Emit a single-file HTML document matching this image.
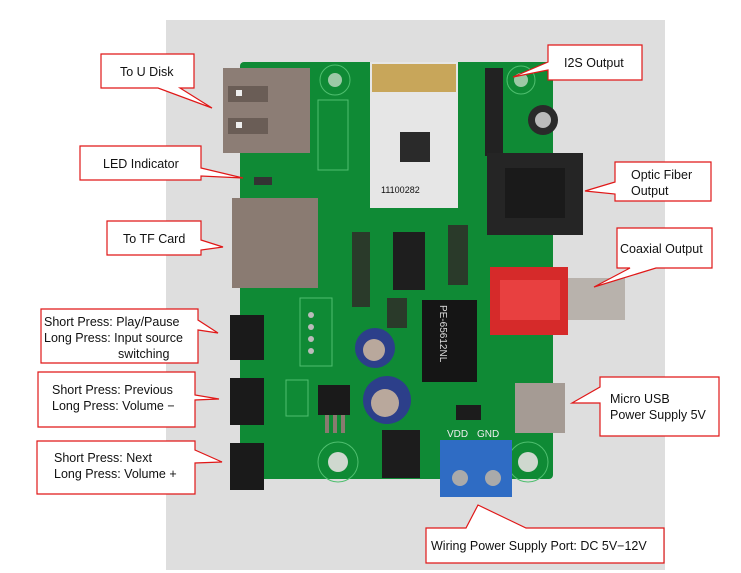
<!DOCTYPE html>
<html><head><meta charset="utf-8"><style>
html,body{margin:0;padding:0;background:#fff;}
svg{display:block;}
text{font-family:"Liberation Sans",sans-serif;font-size:12.5px;fill:#111;}
</style></head><body>
<svg width="741" height="573" viewBox="0 0 741 573" xmlns="http://www.w3.org/2000/svg">
<rect x="166" y="20" width="499" height="550" fill="#dedede"/>
<!-- PCB -->
<rect x="240" y="62" width="313" height="417" rx="4" fill="#0f8a35"/>
<g fill="none" stroke="#4fbf6f" stroke-width="1">
<circle cx="335" cy="80" r="15"/><circle cx="521" cy="80" r="14"/>
<circle cx="338" cy="462" r="20"/><circle cx="528" cy="462" r="20"/>
<rect x="300" y="298" width="32" height="68"/>
<rect x="286" y="380" width="22" height="36"/>
<rect x="318" y="100" width="30" height="70"/>
</g>
<circle cx="335" cy="80" r="7" fill="#9cc9a6"/><circle cx="521" cy="80" r="7" fill="#9cc9a6"/>
<circle cx="338" cy="462" r="10" fill="#cfd8cf"/><circle cx="528" cy="462" r="10" fill="#cfd8cf"/>
<!-- USB port -->
<rect x="223" y="68" width="87" height="85" fill="#8c7d75"/>
<rect x="228" y="86" width="40" height="16" fill="#6a5d56"/><rect x="228" y="118" width="40" height="16" fill="#6a5d56"/>
<rect x="236" y="90" width="6" height="6" fill="#eee"/><rect x="236" y="122" width="6" height="6" fill="#eee"/>
<!-- LED -->
<rect x="254" y="177" width="18" height="8" fill="#333"/>
<!-- TF card -->
<rect x="232" y="198" width="86" height="90" fill="#8a7b72"/>
<!-- wifi module -->
<rect x="370" y="62" width="88" height="146" fill="#e6e6e6"/>
<rect x="372" y="64" width="84" height="28" fill="#c8a65a"/>
<rect x="400" y="132" width="30" height="30" fill="#2a2a2a"/>
<text x="381" y="193" style="font-size:9px">11100282</text>
<!-- pin header -->
<rect x="485" y="68" width="18" height="88" fill="#222"/>
<circle cx="543" cy="120" r="15" fill="#2a2a2a"/><circle cx="543" cy="120" r="8" fill="#bbb"/>
<!-- optic -->
<rect x="487" y="153" width="96" height="82" fill="#252525"/>
<rect x="505" y="168" width="60" height="50" fill="#1a1a1a"/>
<!-- IC1 -->
<rect x="393" y="232" width="32" height="58" fill="#1e1e1e"/>
<g fill="#2a3a2a"><rect x="352" y="232" width="18" height="75"/><rect x="448" y="225" width="20" height="60"/><rect x="387" y="298" width="20" height="30"/></g>
<!-- pulse -->
<rect x="422" y="300" width="55" height="82" fill="#151515"/>
<text x="0" y="0" transform="translate(440,305) rotate(90)" style="font-size:10px;fill:#ddd">PE-65612NL</text>
<!-- RCA -->
<rect x="568" y="278" width="57" height="42" fill="#b8b2ac"/>
<rect x="490" y="267" width="78" height="68" fill="#d62a2a"/>
<rect x="500" y="280" width="60" height="40" fill="#e84040"/>
<!-- switches -->
<g fill="#1a1a1a"><rect x="230" y="315" width="34" height="45"/><rect x="230" y="378" width="34" height="47"/><rect x="230" y="443" width="34" height="47"/></g>
<g fill="#bbb"><circle cx="311" cy="315" r="3"/><circle cx="311" cy="327" r="3"/><circle cx="311" cy="339" r="3"/><circle cx="311" cy="351" r="3"/></g>
<!-- caps -->
<circle cx="375" cy="348" r="20" fill="#2c3f8a"/><circle cx="374" cy="350" r="11" fill="#b9a89c"/>
<circle cx="387" cy="400" r="24" fill="#2c3f8a"/><circle cx="385" cy="403" r="14" fill="#b9a89c"/>
<!-- regulators -->
<rect x="318" y="385" width="32" height="30" fill="#1a1a1a"/>
<g fill="#8a7a70"><rect x="325" y="415" width="4" height="18"/><rect x="333" y="415" width="4" height="18"/><rect x="341" y="415" width="4" height="18"/></g>
<rect x="382" y="430" width="38" height="48" fill="#1c1c1c"/>
<rect x="456" y="405" width="25" height="15" fill="#1c1c1c"/>
<!-- micro usb -->
<rect x="515" y="383" width="50" height="50" fill="#a59b94"/>
<!-- terminal -->
<rect x="440" y="440" width="72" height="57" fill="#2f6cc4"/>
<circle cx="460" cy="478" r="8" fill="#aaa"/><circle cx="493" cy="478" r="8" fill="#aaa"/>
<text x="447" y="437" style="font-size:10px;fill:#eee">VDD</text><text x="477" y="437" style="font-size:10px;fill:#eee">GND</text>

<!-- callouts -->
<g fill="#fff" stroke="#e01818" stroke-width="1.2" stroke-linejoin="miter">
<path d="M101,54 H194 V88 H180 L212,108 L158,88 H101 Z"/>
<path d="M80,146 H201 V168 L243,178 L201,176 V180 H80 Z"/>
<path d="M107,221 H201 V240 L223,247 L201,250 V255 H107 Z"/>
<path d="M548,45 H642 V80 H548 V70 L513,77 L548,62 Z"/>
<path d="M615,162 H711 V201 H615 V194 L585,191 L615,182 Z"/>
<path d="M617,228 H712 V268 H656 L594,287 L630,268 H617 Z"/>
<path d="M41,309 H198 V320 L218,333 L198,330 V363 H41 Z"/>
<path d="M38,372 H195 V395 L219,399 L195,400 V427 H38 Z"/>
<path d="M37,441 H195 V450 L222,462 L195,463 V494 H37 Z"/>
<path d="M600,377 H719 V436 H600 V403 L572,403 L600,387 Z"/>
<path d="M426,528 H466 L478,505 L526,528 H664 V563 H426 Z"/>
</g>
<text x="120" y="76">To U Disk</text>
<text x="103" y="168">LED Indicator</text>
<text x="123" y="243">To TF Card</text>
<text x="564" y="67">I2S Output</text>
<text x="631" y="179">Optic Fiber</text><text x="631" y="195">Output</text>
<text x="620" y="253">Coaxial Output</text>
<text x="44" y="326">Short Press: Play/Pause</text>
<text x="44" y="342">Long Press: Input source</text>
<text x="118" y="358">switching</text>
<text x="52" y="394">Short Press: Previous</text>
<text x="52" y="410">Long Press: Volume −</text>
<text x="54" y="462">Short Press: Next</text>
<text x="54" y="478">Long Press: Volume +</text>
<text x="610" y="403">Micro USB</text>
<text x="610" y="419">Power Supply 5V</text>
<text x="431" y="550">Wiring Power Supply Port: DC 5V−12V</text>
</svg>
</body></html>
